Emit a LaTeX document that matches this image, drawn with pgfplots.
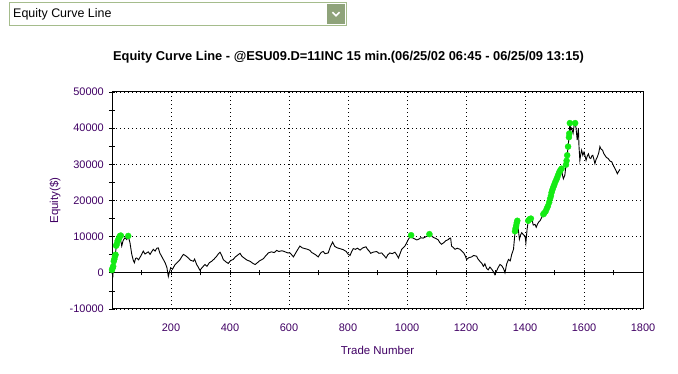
\documentclass[border=0pt]{standalone}
\usepackage{pgfplots}
\pgfplotsset{compat=1.18}
\usepackage{fontspec}
\setmainfont{Liberation Sans}
\definecolor{lbl}{RGB}{64,0,100}
\definecolor{ddborder}{RGB}{165,188,140}
\definecolor{ddbtn}{RGB}{143,163,122}
\definecolor{eqgreen}{RGB}{20,235,20}
\begin{document}
\begin{tikzpicture}
\path[use as bounding box] (0bp,0bp) rectangle (678bp,374bp);
% dropdown box
\draw[ddborder, line width=1bp] (9.5bp,348.5bp) rectangle (346.5bp,371.5bp);
\fill[ddbtn] (327bp,350bp) rectangle (345bp,370bp);
\draw[white, line width=1.6bp] (332.5bp,361.8bp) -- (336bp,358.3bp) -- (339.5bp,361.8bp);
\node[anchor=west, inner sep=0pt, font=\fontsize{12.5}{14}\selectfont] at (13bp,360bp) {Equity Curve Line};
% title
\node[font=\bfseries\fontsize{12.9}{15}\selectfont, inner sep=0pt] at (348.5bp,317bp) {Equity Curve Line - @ESU09.D=11INC 15 min.(06/25/02 06:45 - 06/25/09 13:15)};
\begin{axis}[
  at={(112bp,65bp)}, anchor=south west,
  width=531bp, height=217bp, scale only axis,
  xmin=0, xmax=1800, ymin=-10000, ymax=50000,
  scaled ticks=false,
  axis line style={line width=1bp},
  xtick={200,400,...,1800},
  xticklabels={200,400,600,800,1000,1200,1400,1600,1800},
  ytick={-10000,0,10000,20000,30000,40000,50000},
  yticklabels={-10000,0,10000,20000,30000,40000,50000},
  minor ytick={-5000,5000,15000,25000,35000,45000},
  xtick pos=bottom, ytick pos=left,
  x tick style={draw=none},
  y tick style={black, line width=0.8bp},
  tick align=center,
  major tick length=6bp, minor tick length=6bp,
  grid=major,
  major grid style={black, dash pattern=on 1bp off 3bp, line width=0.8bp},
  ticklabel style={font=\fontsize{11}{13}\selectfont, text=lbl},
  yticklabel style={anchor=east, inner sep=0pt, xshift=-5bp},
  xticklabel style={anchor=center, inner sep=0pt, yshift=-16bp},
  xlabel={Trade Number}, ylabel={Equity(\$)},
  label style={font=\fontsize{11.5}{13}\selectfont, text=lbl},
  xlabel style={at={(axis description cs:0.5,0)}, anchor=center, yshift=-41bp, inner sep=0pt},
  ylabel style={at={([xshift=-57bp]axis description cs:0,0.5)}, anchor=center, inner sep=0pt},
  clip=false,
]
% zero line
\addplot[black, line width=1bp] coordinates {(0,0) (1800,0)};
\foreach \t in {100,200,...,1700} {
  \edef\tmp{\noexpand\draw[black, line width=0.8bp] ([yshift=-2.5bp]axis cs:\t,0) -- ([yshift=2.5bp]axis cs:\t,0);}\tmp
}
% equity curve
\addplot[black, line width=0.9bp] table {
X Y
0 0
3 -800
5 1500
10 4600
16 7900
22 9000
27 10200
33 7400
38 9000
44 9700
50 9200
55 10200
61 8300
67 5100
72 3500
76 2800
80 4000
84 4100
90 3600
95 4300
100 5000
106 6000
112 5200
117 5500
123 5800
129 5100
135 5900
140 6500
146 6000
152 6800
157 6900
162 5500
168 4600
174 3700
180 2800
186 1500
191 -1000
195 300
199 1400
205 1000
214 2300
222 2900
231 3700
236 4400
242 5100
250 4700
259 4100
266 3500
276 3200
280 3800
287 2300
293 1500
298 700
305 1400
315 2300
322 1800
330 2800
338 3200
346 3800
355 4600
360 5200
366 5700
372 4800
377 3700
385 3100
394 2600
402 3400
411 3700
418 4400
426 4900
434 5400
440 4600
451 3900
458 3500
468 3200
476 2700
485 2300
490 2600
500 3300
513 3900
520 4600
530 5500
540 5800
550 5600
558 6200
566 5900
575 6100
581 6000
590 5700
596 5500
603 5500
609 5000
615 4400
622 5400
630 6500
637 7400
645 6900
654 6700
663 6500
671 6200
677 5600
682 5400
690 5000
699 4400
705 5200
710 5700
716 5900
722 5300
733 5500
740 7200
748 8500
755 7300
764 6900
772 6700
784 6400
794 5900
800 5200
807 4800
812 5800
818 6700
825 6500
832 6800
841 6300
850 6900
861 7200
866 6500
872 6000
877 5400
885 5700
897 5900
905 5400
914 5500
922 4800
929 4100
935 5000
942 5500
950 5300
959 5700
965 5000
971 4100
976 5200
982 6500
988 7000
993 7400
1000 8500
1005 9300
1014 10400
1020 9600
1026 9400
1033 9100
1040 9300
1046 9700
1055 9600
1062 9900
1070 10200
1076 10700
1082 10400
1089 9800
1095 9600
1100 9400
1106 9100
1110 8500
1117 7900
1124 8300
1132 8900
1140 9200
1145 9600
1148 9600
1151 7400
1157 7000
1163 6500
1170 6800
1180 6500
1186 6000
1193 5400
1198 4600
1202 3700
1210 4200
1219 4400
1226 4800
1236 4600
1240 3900
1247 3200
1253 2700
1259 1800
1264 2500
1270 1200
1275 800
1281 1600
1288 900
1293 300
1298 -500
1304 600
1310 1600
1315 2300
1321 2000
1327 1200
1332 0
1338 2500
1344 3700
1350 3300
1355 5100
1361 6500
1366 11100
1370 12500
1374 14400
1378 11500
1381 9300
1385 10500
1389 11100
1395 10500
1400 10200
1403 8300
1407 12000
1411 14400
1417 14800
1423 15000
1428 13200
1434 13400
1438 12600
1442 13400
1446 14000
1451 14400
1456 15200
1462 16200
1467 16800
1473 17400
1478 18300
1482 19500
1486 20600
1490 21300
1493 22300
1496 23200
1499 23900
1502 24600
1506 25300
1509 26000
1514 26800
1519 27900
1524 28800
1527 27000
1530 26000
1535 27000
1539 29900
1541 31000
1543 32500
1546 34900
1548 36500
1550 38100
1552 41400
1555 39500
1558 40000
1563 38600
1566 40500
1570 41400
1573 40000
1577 36700
1581 40000
1583 35000
1586 31100
1589 32800
1592 33900
1596 32500
1600 33400
1604 32200
1607 31100
1611 32300
1615 32900
1619 31800
1623 31600
1627 32400
1630 32500
1634 31200
1637 30200
1641 31400
1645 32000
1650 33200
1654 34900
1658 34200
1663 33900
1667 33000
1671 32500
1676 31900
1682 31600
1688 30900
1694 30700
1700 29600
1705 28800
1709 28200
1713 27400
1717 28000
1722 28600
};
% new equity highs
\addplot[only marks, mark=*, mark size=3bp, eqgreen, mark options={draw=eqgreen, fill=eqgreen}] table {
X Y
0 800
2 1300
4 1800
6 3200
8 3800
10 4600
12 5000
14 7500
16 7900
19 8800
22 9300
25 9800
27 10200
30 10300
55 10200
1014 10400
1076 10700
1366 11500
1368 12300
1370 13000
1372 13800
1374 14400
1411 14400
1415 14800
1420 15000
1462 16200
1465 16500
1470 17000
1474 17800
1478 18500
1482 19500
1485 20500
1488 21300
1490 22200
1493 23000
1496 23700
1499 24300
1502 25000
1506 25700
1509 26300
1512 27000
1516 27800
1520 28400
1524 28800
1539 29900
1541 31000
1543 32500
1546 34900
1549 37500
1550 38500
1552 41400
1570 41400
};
\end{axis}
\end{tikzpicture}
\end{document}
